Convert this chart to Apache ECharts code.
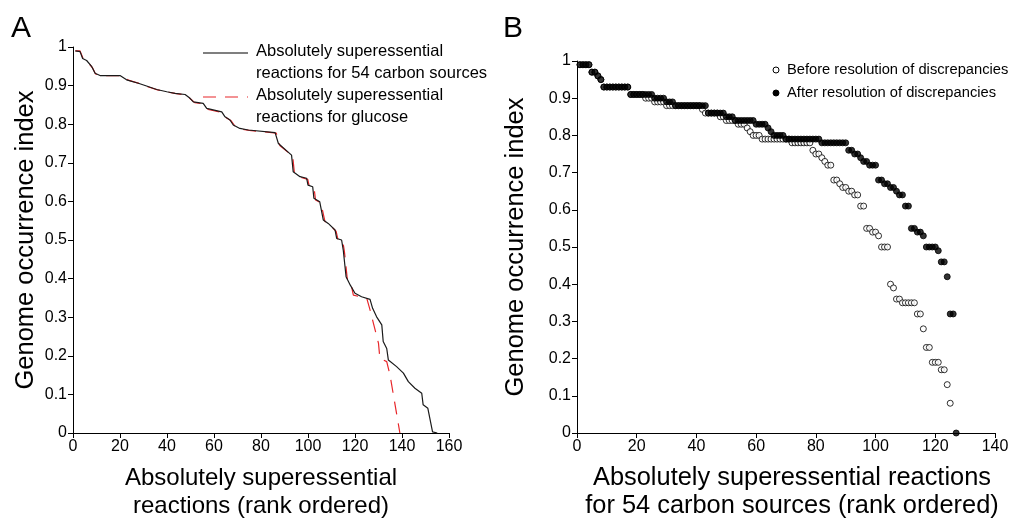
<!DOCTYPE html>
<html>
<head>
<meta charset="utf-8">
<script src="https://cdn.jsdelivr.net/npm/echarts@6/dist/echarts.min.js"></script>
<style>
html,body{margin:0;padding:0;background:#fff;}
#chart{width:1013px;height:520px;}
</style>
</head>
<body>
<div id="chart"></div>
<script>
// ---------- Panel A: genome occurrence index vs rank (line vertices) ----------
var allRanksX = [1, 3, 4.1, 5.8, 8, 9.4, 11.5, 20, 22.8, 27.8, 31.3, 35.6, 39.9, 43.4, 47.7, 49.8, 51.2, 55.4, 56.9, 63.3, 64.7, 66.8, 68.2, 71, 74.6, 86, 87.4, 93, 93.7, 96.6, 99.4, 100, 102, 102.5, 105, 106.5, 108.6, 111.5, 112.2, 114.3, 115, 116.2, 118, 120, 122.8, 126.4, 127.5, 129.2, 131.4, 132, 133.5, 134.2, 137.7, 140.6, 142.7, 145.5, 148.4, 149, 151, 153, 155];
var allRanksY = [0.99, 0.988, 0.97, 0.965, 0.949, 0.932, 0.926, 0.926, 0.915, 0.906, 0.899, 0.89, 0.884, 0.88, 0.877, 0.867, 0.858, 0.854, 0.841, 0.832, 0.819, 0.811, 0.798, 0.789, 0.785, 0.778, 0.75, 0.72, 0.677, 0.664, 0.66, 0.642, 0.638, 0.608, 0.599, 0.552, 0.543, 0.526, 0.504, 0.5, 0.474, 0.405, 0.383, 0.362, 0.353, 0.346, 0.323, 0.301, 0.28, 0.237, 0.219, 0.189, 0.172, 0.155, 0.133, 0.116, 0.103, 0.073, 0.064, 0.003, 0];

var glucoseX = [1, 3, 4.3, 6, 8.3, 9.6, 12, 21, 23.5, 28.5, 31.8, 36, 40.5, 44, 48, 50.3, 51.8, 56, 57.5, 63.8, 65.2, 67.3, 68.8, 71.5, 75, 86.5, 88, 93.5, 94.2, 97, 99.9, 100.5, 102.6, 103.2, 105.5, 107.2, 109.2, 112, 112.8, 114.8, 115.5, 116.7, 118.5, 119.3, 125, 126.4, 130, 130.6, 133.5, 134.9, 139.1];
var glucoseY = [0.99, 0.99, 0.97, 0.963, 0.946, 0.93, 0.926, 0.926, 0.914, 0.905, 0.897, 0.889, 0.883, 0.879, 0.876, 0.864, 0.856, 0.852, 0.838, 0.83, 0.817, 0.809, 0.796, 0.787, 0.784, 0.777, 0.745, 0.717, 0.674, 0.662, 0.657, 0.64, 0.634, 0.604, 0.596, 0.548, 0.54, 0.522, 0.5, 0.497, 0.47, 0.4, 0.38, 0.357, 0.349, 0.319, 0.232, 0.193, 0.185, 0.15, 0];

// ---------- Panel B: occurrence index per rank (rank = position + 1) ----------
var beforeY = [
 0.99,0.99,0.99,0.99, 0.97,0.97, 0.96, 0.95,
 0.93,0.93,0.93,0.93,0.93,0.93,0.93,0.93,0.93,
 0.91,0.91,0.91,0.91,0.91,
 0.90,0.90,0.90,
 0.89,0.89,0.89,0.89,
 0.88,0.88,0.88,0.88,0.88,0.88,0.88,0.88,0.88,0.88,0.88,0.88,
 0.87,
 0.86,0.86,0.86,0.86,0.86,
 0.85,0.85,
 0.84,0.84,0.84,0.84,
 0.83,0.83,0.83,
 0.82, 0.81,
 0.80,0.80,0.80,
 0.79,0.79,0.79,0.79,0.79,0.79,0.79,0.79,0.79,0.79,
 0.78,0.78,0.78,0.78,0.78,0.78,0.78,
 0.76, 0.75,0.75, 0.74, 0.73, 0.72,0.72,
 0.68,0.68, 0.67, 0.66,0.66, 0.65,0.65, 0.64,0.64, 0.61,0.61,
 0.55,0.55, 0.54,0.54, 0.53, 0.50,0.50,0.50, 0.40, 0.39, 0.36,0.36,
 0.35,0.35,0.35,0.35,0.35, 0.32,0.32, 0.28, 0.23,0.23,
 0.19,0.19,0.19, 0.17,0.17, 0.13, 0.08
];
var afterY = [
 0.99,0.99,0.99,0.99, 0.97,0.97, 0.96, 0.95,
 0.93,0.93,0.93,0.93,0.93,0.93,0.93,0.93,0.93,
 0.91,0.91,0.91,0.91,0.91,0.91,0.91,0.91,
 0.90,0.90,0.90,0.90,
 0.89,0.89,0.89,
 0.88,0.88,0.88,0.88,0.88,0.88,0.88,0.88,0.88,0.88,0.88,
 0.86,0.86,0.86,0.86,0.86,0.86,
 0.85,0.85,0.85,
 0.84,0.84,0.84,0.84,0.84,0.84,0.84,
 0.83,0.83,0.83,0.83,
 0.82, 0.81,
 0.80,0.80,0.80,0.80,
 0.79,0.79,0.79,0.79,0.79,0.79,0.79,0.79,0.79,0.79,0.79,0.79,
 0.78,0.78,0.78,0.78,0.78,0.78,0.78,0.78,0.78,
 0.76,0.76, 0.75,0.75, 0.74, 0.73,0.73, 0.72,0.72,0.72,
 0.68,0.68, 0.67,0.67, 0.66,0.66, 0.65, 0.64,0.64, 0.61,0.61,
 0.55,0.55, 0.54,0.54, 0.53, 0.50,0.50,0.50,0.50, 0.49, 0.46,0.46,
 0.42, 0.32,0.32, 0.00
];

var xTicksA = [0, 160, 20];
var xTicksB = [0, 140, 20];
var yTicks = [0, 1, 0.1];

function pairs(xs, ys) { return xs.map(function (x, i) { return [x, ys[i]]; }); }
function ranked(ys) { return ys.map(function (y, i) { return [i + 1, y]; }); }

var FONT = 'Liberation Sans, Arial, sans-serif';
function axisCommon(extra, nameSize, namePad) {
  var o = {
    type: 'value',
    axisLine: { show: true, onZero: false, lineStyle: { color: '#000', width: 1 } },
    axisTick: { show: true, length: 5, lineStyle: { color: '#000', width: 1 } },
    axisLabel: { color: '#000', fontSize: 16, fontFamily: FONT, margin: 6 },
    splitLine: { show: false },
    nameLocation: 'middle',
    nameTextStyle: { color: '#000', fontSize: nameSize, lineHeight: 28, fontFamily: FONT, padding: namePad || 0 }
  };
  for (var k in extra) o[k] = extra[k];
  return o;
}

var chart = echarts.init(document.getElementById('chart'), null, { renderer: 'canvas' });
chart.setOption({
  animation: false,
  backgroundColor: '#fff',
  grid: [
    { left: 73, right: 564, top: 47, bottom: 87, containLabel: false, outerBoundsMode: 'none' },
    { left: 577, right: 18, top: 61, bottom: 87, containLabel: false, outerBoundsMode: 'none' }
  ],
  xAxis: [
    axisCommon({ gridIndex: 0, min: xTicksA[0], max: xTicksA[1], interval: xTicksA[2],
      name: 'Absolutely superessential\nreactions (rank ordered)', nameGap: 31 }, 24),
    axisCommon({ gridIndex: 1, min: xTicksB[0], max: xTicksB[1], interval: xTicksB[2],
      name: 'Absolutely superessential reactions\nfor 54 carbon sources (rank ordered)', nameGap: 31 }, 25.4, [0, 0, 0, 12])
  ],
  yAxis: [
    axisCommon({ gridIndex: 0, min: yTicks[0], max: yTicks[1], interval: yTicks[2],
      name: 'Genome occurrence index', nameGap: 33 }, 25.5),
    axisCommon({ gridIndex: 1, min: yTicks[0], max: yTicks[1], interval: yTicks[2],
      name: 'Genome occurrence index', nameGap: 47 }, 25.5)
  ],
  series: [
    { name: 'glucose', type: 'line', xAxisIndex: 0, yAxisIndex: 0, data: pairs(glucoseX, glucoseY),
      showSymbol: false, lineStyle: { color: '#e8262a', width: 1.2, type: [13, 9] }, z: 2 },
    { name: '54 carbon sources', type: 'line', xAxisIndex: 0, yAxisIndex: 0, data: pairs(allRanksX, allRanksY),
      showSymbol: false, lineStyle: { color: '#1a1a1a', width: 1.2 }, z: 3 },
    { name: 'Before resolution of discrepancies', type: 'scatter', xAxisIndex: 1, yAxisIndex: 1,
      data: ranked(beforeY), symbol: 'circle', symbolSize: 6,
      itemStyle: { color: '#fff', borderColor: '#000', borderWidth: 1 }, z: 2 },
    { name: 'After resolution of discrepancies', type: 'scatter', xAxisIndex: 1, yAxisIndex: 1,
      data: ranked(afterY), symbol: 'circle', symbolSize: 6,
      itemStyle: { color: '#000', borderColor: '#000', borderWidth: 1 }, z: 3 }
  ],
  graphic: [
    { type: 'text', left: 11, top: 14, style: { text: 'A', fontSize: 30, fontFamily: FONT, fill: '#000' } },
    { type: 'text', left: 503, top: 14, style: { text: 'B', fontSize: 30, fontFamily: FONT, fill: '#000' } },
    // legend A
    { type: 'line', shape: { x1: 203, y1: 53, x2: 248, y2: 53 }, style: { stroke: '#000', lineWidth: 1.2 } },
    { type: 'text', x: 256, y: 40, style: { text: 'Absolutely superessential\nreactions for 54 carbon sources',
      fontSize: 16.5, lineHeight: 22, fontFamily: FONT, fill: '#000' } },
    { type: 'line', shape: { x1: 203, y1: 97, x2: 248, y2: 97 }, style: { stroke: '#e8262a', lineWidth: 1.2, lineDash: [13, 9] } },
    { type: 'text', x: 256, y: 84, style: { text: 'Absolutely superessential\nreactions for glucose',
      fontSize: 16.5, lineHeight: 22, fontFamily: FONT, fill: '#000' } },
    // legend B
    { type: 'circle', shape: { cx: 776, cy: 70, r: 3 }, style: { fill: '#fff', stroke: '#000', lineWidth: 1 } },
    { type: 'text', x: 787, y: 70, style: { text: 'Before resolution of discrepancies', fontSize: 14.7,
      fontFamily: FONT, fill: '#000', verticalAlign: 'middle' } },
    { type: 'circle', shape: { cx: 776, cy: 93, r: 3 }, style: { fill: '#000', stroke: '#000', lineWidth: 1 } },
    { type: 'text', x: 787, y: 93, style: { text: 'After resolution of discrepancies', fontSize: 14.7,
      fontFamily: FONT, fill: '#000', verticalAlign: 'middle' } }
  ]
});
</script>
</body>
</html>
